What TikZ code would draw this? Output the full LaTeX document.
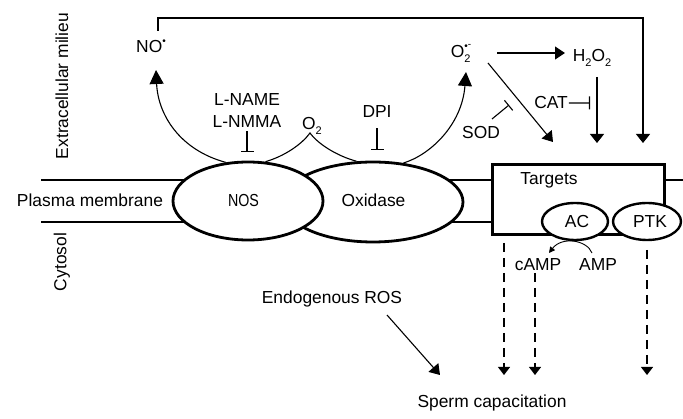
\documentclass[tikz,border=0pt]{standalone}
\usepackage{fontspec}
\setmainfont{Liberation Sans}
\usetikzlibrary{arrows.meta,shapes.geometric}
\newcommand{\mysub}[1]{\raisebox{-0.28em}{\fontsize{11}{11}\selectfont #1}}
\newcommand{\mysup}[1]{\raisebox{0.5em}{\fontsize{10}{10}\selectfont #1}}
\begin{document}
\begin{tikzpicture}[x=1pt,y=-1pt,
  txt/.style={font=\fontsize{17.4}{20}\selectfont, inner sep=0pt, anchor=base},
  thinl/.style={line width=1.1pt},
  arr/.style={thinl,-{Triangle[length=10pt,width=13pt]}},
  bigarr/.style={thinl,-{Triangle[length=14pt,width=14pt]}},
  inh/.style={thinl,-{Bar[width=13pt]}},
  dasharr/.style={thinl,dash pattern=on 9pt off 6pt,-{Triangle[length=8pt,width=12pt]}},
  memb/.style={line width=2.8pt},
  enz/.style={ellipse,draw,line width=2.8pt,fill=white,inner sep=0pt},
]
\useasboundingbox (0,0) rectangle (683,419);

% membrane lines
\draw[memb] (41,180) -- (250,180);
\draw[memb] (41,222) -- (250,222);
\draw[memb] (373,180) -- (491,180);
\draw[memb] (373,222) -- (491,222);
\draw[memb] (663,180) -- (683,180);

% enzymes
\node[enz, minimum width=180pt, minimum height=80pt] (Ox) at (373,202) {};
\node[enz, minimum width=150pt, minimum height=78pt] (NOS) at (248,201) {};
\node[draw, memb, fill=white, minimum width=172pt, minimum height=70pt, inner sep=0pt, anchor=north west] (box) at (491,163) {};
\node[enz, line width=2.4pt, minimum width=66pt, minimum height=37pt] (AC) at (575,221.5) {};
\node[enz, line width=2.4pt, minimum width=68pt, minimum height=37pt] (PTK) at (647,221.5) {};

% labels
\node[txt, rotate=90, anchor=center] (extra) at (62,86) {Extracellular milieu};
\node[txt, rotate=90, anchor=center] (cyto) at (62,262) {Cytosol};
\node[txt] (pm) at (90,207) {Plasma membrane};
\node[txt] (NOSl) at (243.5,206.5) {\scalebox{0.82}[1]{NOS}};
\node[txt] (Oxl) at (373.5,206.5) {Oxidase};
\node[txt] (Tl) at (549,185) {Targets};
\node[txt] (ACl) at (577,228) {AC};
\node[txt] (PTKl) at (650,228) {PTK};
\node[txt] (cAMP) at (538,271) {cAMP};
\node[txt] (AMP) at (598,271) {AMP};
\node[txt] (NO) at (151,53) {NO\mysup{•}};
\node[txt] (LNAME) at (247,106) {L-NAME};
\node[txt] (LNMMA) at (247,128) {L-NMMA};
\node[txt] (O2) at (312,130) {O\mysub{2}};
\node[txt] (DPI) at (377,118) {DPI};
\node[txt] (O2m) at (461,58) {O\rlap{\mysub{2}}\mysup{•\raisebox{0.15em}{-}}};
\node[txt] (H2O2) at (592,62) {H\mysub{2}O\mysub{2}};
\node[txt] (CAT) at (551,109) {CAT};
\node[txt] (SOD) at (481,139) {SOD};
\node[txt] (ROS) at (332,304) {Endogenous ROS};
\node[txt] (SC) at (492,408) {Sperm capacitation};

% coordinates
\coordinate (fs) at (158,31);
\coordinate (ftop) at (158,18);
\coordinate (fe) at (643,143);
\coordinate (NOtip) at (156,70);
\coordinate (Otip) at (466,72);
\coordinate (O2pk) at (310,133);
\coordinate (i1) at (247,152);
\coordinate (d1) at (377,150);
\coordinate (s0) at (492,119);
\coordinate (s1) at (509,105);
\coordinate (c1) at (590,103);
\coordinate (h0) at (497,53);
\coordinate (h1) at (565,53);
\coordinate (v0) at (597,77);
\coordinate (v1) at (597,143);
\coordinate (g0) at (488,63);
\coordinate (g1) at (553,142);
\coordinate (r0) at (387,315);
\coordinate (r1) at (440,375);
\coordinate (a0) at (592,253);
\coordinate (a1) at (549,253);
\coordinate (e1) at (504,243);
\coordinate (e2) at (535,273);
\coordinate (e3) at (647,250);
\coordinate (t1) at (504,375);
\coordinate (t2) at (535,375);
\coordinate (t3) at (647,375);

% frame arrow
\draw[thinl, line width=1.2pt, -{Triangle[length=9pt,width=14pt]}] (fs) -- (ftop) -| (fe);

% NOS -> NO
\draw[bigarr] (NOS.120) .. controls (180,150) and (158,115) .. (NOtip);
% O2 into NOS and oxidase
\draw[thinl] (NOS.66) .. controls (285,156) and (302,144) .. (O2pk) .. controls (318,144) and (337,156) .. (Ox.112);
% oxidase -> O2-
\draw[bigarr] (Ox.52) .. controls (430,155) and (462,125) .. (Otip);

% inhibitors
\draw[inh, shorten <=3pt] (LNMMA.south) -- (i1);
\draw[inh, shorten <=10pt] (DPI.south) -- (d1);
\draw[inh] (s0) -- (s1);
\draw[inh, shorten <=1pt] (CAT.east) -- (c1);

% ROS arrows
\draw[arr] (h0) -- (h1);
\draw[arr, -{Triangle[length=9pt,width=14pt]}] (v0) -- (v1);
\draw[arr] (g0) -- (g1);
\draw[arr] (r0) -- (r1);

% AMP -> cAMP
\draw[line width=0.9pt, -{Triangle[length=6pt,width=6pt]}] (a0) .. controls (587,240) and (562,236) .. (a1);

% dashed to capacitation
\draw[dasharr] (e1) -- (t1);
\draw[dasharr] (e2) -- (t2);
\draw[dasharr] (e3) -- (t3);
\end{tikzpicture}
\end{document}
